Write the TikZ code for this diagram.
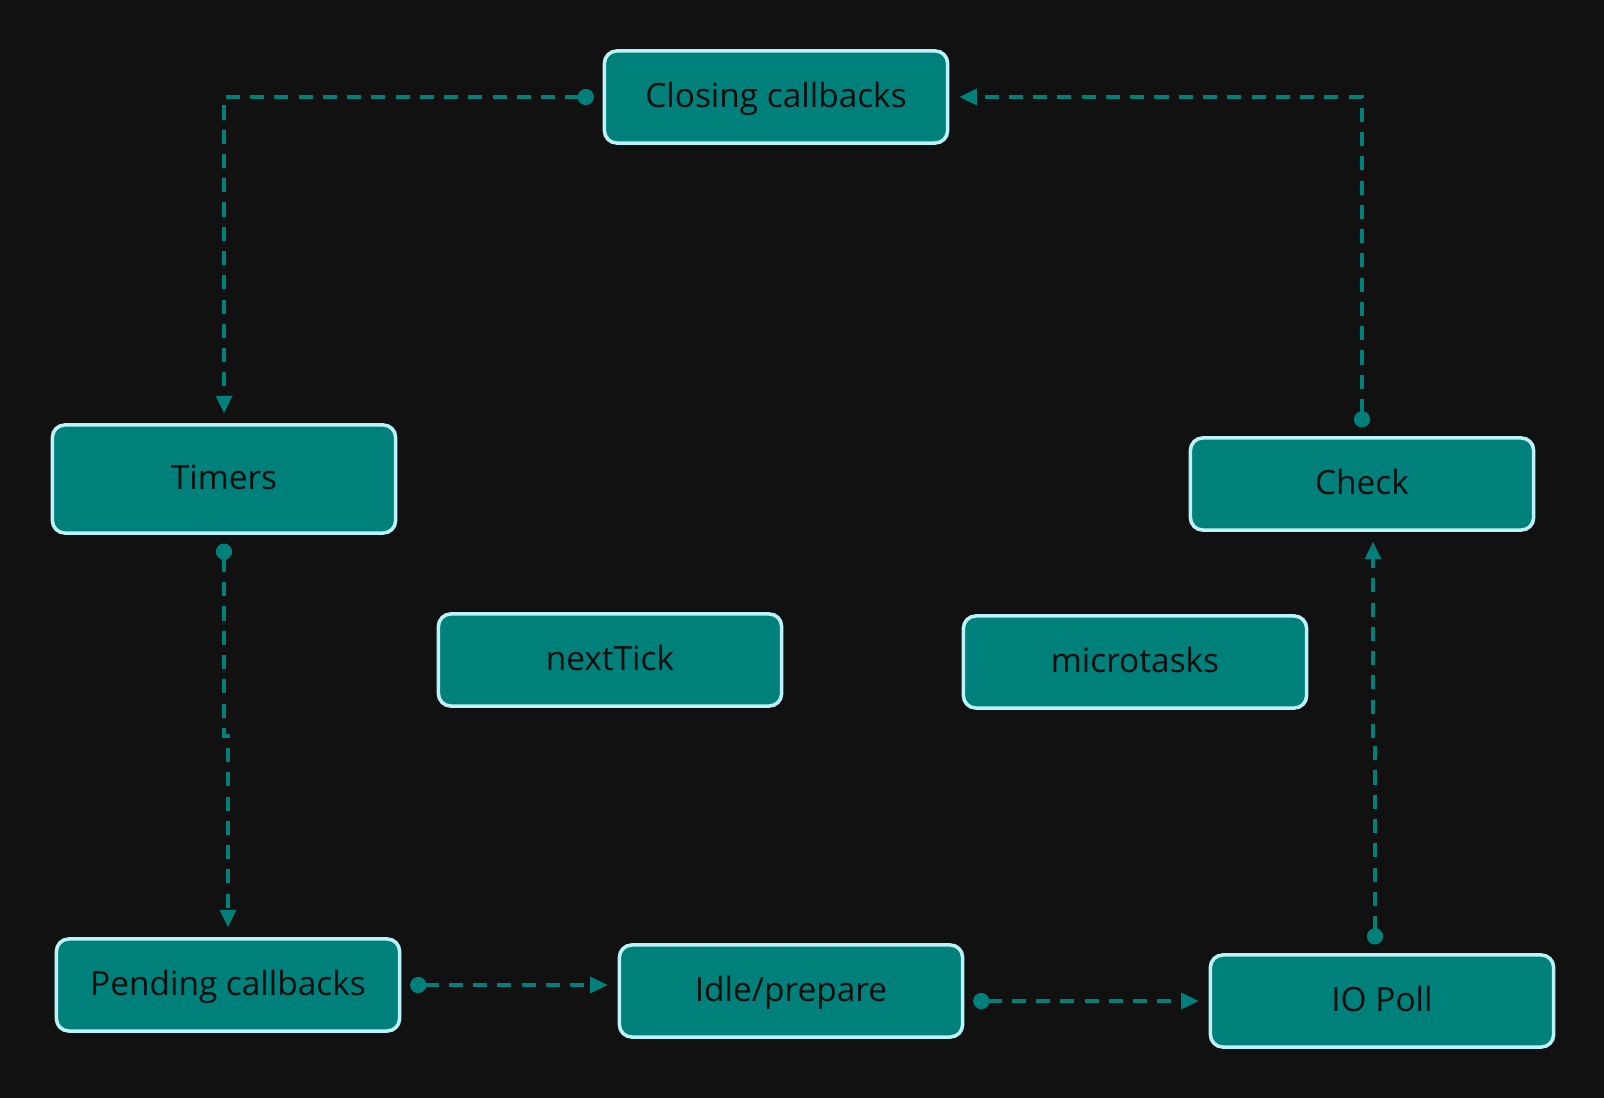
\documentclass[tikz,border=0pt]{standalone}
\usepackage{fontspec}
\setmainfont{Open Sans}
\usetikzlibrary{arrows.meta,calc}
\definecolor{nen}{HTML}{111111}
\definecolor{xanh}{HTML}{00807A}
\definecolor{vien}{HTML}{BDF3F8}
\tikzset{
	khoi/.style={draw=vien, line width=1pt, fill=xanh, rounded corners=3.5pt,
		minimum width=3.43cm, minimum height=0.92cm, inner sep=0pt,
		text height=7.5pt, text depth=1.5pt,
		font=\fontsize{9.5}{12}\selectfont, text=black!95},
	noi/.style={draw=xanh, line width=1.05pt, dash pattern=on 4pt off 2.9pt,
		shorten <=2.5pt, shorten >=2.8pt,
		{Circle[length=4.6pt]}-{Triangle[length=5pt,width=4.5pt]}}
}
\begin{document}
\begin{tikzpicture}[x=0.01cm,y=-0.01cm]
			\fill[nen] (0,0) rectangle (1604,1098);
			% Vẽ các khối
			\node[khoi] (closing) at (776,97) {Closing callbacks};
			\node[khoi, minimum height=1.08cm] (timers) at (224,479) {Timers};
			\node[khoi] (check) at (1362,484) {Check};
			\node[khoi] (nexttick) at (610,660) {nextTick};
			\node[khoi] (microtasks) at (1135,662) {microtasks};
			\node[khoi] (pending) at (228,985) {Pending callbacks};
			\node[khoi] (idle) at (791,991) {Idle/prepare};
			\node[khoi] (iopoll) at (1382,1001) {IO Poll};
			% Vẽ mũi tên
			\draw[noi] (closing.west) -| (timers.north);
			\draw[noi] (check.north) |- (closing.east);
			\draw[noi] (timers.south) |- ($(timers.south)!.5!(pending.north)$) -| (pending.north);
			\draw[noi] (pending.east) -- (pending.east -| idle.west);
			\draw[noi] (idle.east |- iopoll.west) -- (iopoll.west);
			\draw[noi] ([xshift=-0.07cm]iopoll.north) |- ($([xshift=-0.07cm]iopoll.north)!.5!([xshift=0.11cm]check.south)$) -| ([xshift=0.11cm]check.south);
		\end{tikzpicture}
\end{document}
